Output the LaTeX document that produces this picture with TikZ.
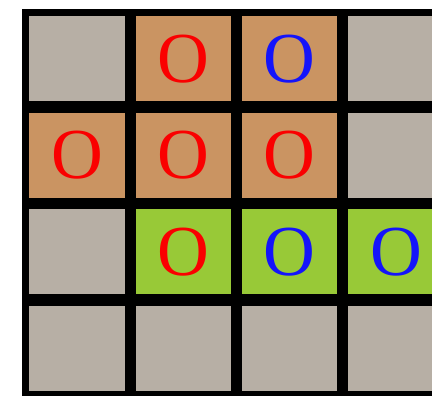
\documentclass[tikz,border=0pt]{standalone}
\usepackage{fontspec}
\setmainfont{Liberation Serif}
\usepackage{xcolor}

\definecolor{cellgray}{RGB}{183,175,165}
\definecolor{celltan}{RGB}{202,148,98}
\definecolor{cellgreen}{RGB}{152,201,55}
\definecolor{inkred}{RGB}{250,0,0}
\definecolor{inkblue}{RGB}{20,20,250}

\begin{document}
\begin{tikzpicture}[
  x=0.025cm,
  y=-0.025cm,
  line cap=round,
  line join=round,
  cell/.style={
    draw=none,
    inner sep=0pt,
    minimum width=2.3875cm,
    minimum height=2.1325cm
  },
  letter/.style={inner sep=0pt,font=\fontsize{51}{51}\selectfont}
]
  \path[use as bounding box] (0,0) rectangle (432,395);
  \clip (0,0) rectangle (432,395);

  % Black frame; the cells leave the grid lines showing.
  \fill[black] (22,9) rectangle (440,400);

  % 4 x 4 cells, the right column runs past the picture edge.
  \foreach \cRow/\cCol/\cFill in {
      1/1/cellgray, 1/2/celltan, 1/3/celltan, 1/4/cellgray,
      2/1/celltan, 2/2/celltan, 2/3/celltan, 2/4/cellgray,
      3/1/cellgray, 3/2/cellgreen, 3/3/cellgreen, 3/4/cellgreen,
      4/1/cellgray, 4/2/cellgray, 4/3/cellgray, 4/4/cellgray}{
    \node[cell,fill=\cFill] (cell-\cRow-\cCol)
      at ({77.05+(\cCol-1)*106.33},{58.65+(\cRow-1)*96.55}) {};
  }

  % Red and blue marks sit in the middle of their cells.
  \foreach \cRow/\cCol/\cInk in {
      1/2/inkred, 1/3/inkblue,
      2/1/inkred, 2/2/inkred, 2/3/inkred,
      3/2/inkred, 3/3/inkblue, 3/4/inkblue}{
    \node[letter,text=\cInk] (o-\cRow-\cCol) at (cell-\cRow-\cCol) {O};
  }
\end{tikzpicture}
\end{document}
